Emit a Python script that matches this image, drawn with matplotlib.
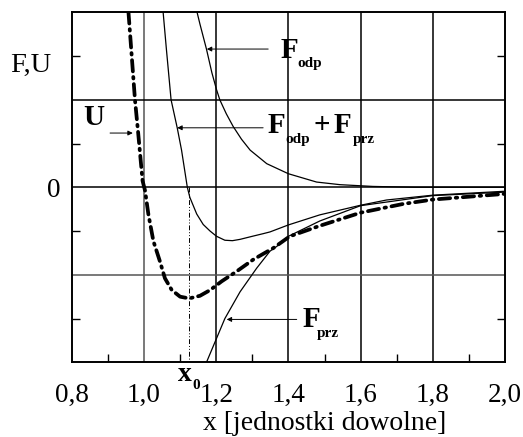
import matplotlib
matplotlib.use("Agg")
import matplotlib.pyplot as plt
from matplotlib.ticker import FixedLocator, FixedFormatter

plt.rcParams['font.family'] = ['Liberation Serif', 'DejaVu Serif']

# ---- data ----
x_odp = [1.147, 1.155, 1.173, 1.188, 1.201, 1.21, 1.228, 1.247, 1.27, 1.294, 1.34, 1.4, 1.478, 1.543, 1.634, 1.75, 2.0]
F_odp = [4.0, 3.73, 3.16, 2.62, 2.23, 2.0, 1.68, 1.39, 1.1, 0.85, 0.54, 0.31, 0.12, 0.06, 0.02, 0.0, 0.0]

x_sum = [1.053, 1.062, 1.075, 1.092, 1.104, 1.12, 1.127, 1.146, 1.164, 1.183, 1.201, 1.224, 1.245,
         1.266, 1.30, 1.33, 1.349, 1.4, 1.487, 1.6, 1.672, 1.8, 2.0]
F_sum = [4.0, 3.16, 2.0, 1.36, 0.85, 0.0, -0.23, -0.61, -0.85, -1.0, -1.12, -1.21, -1.22,
         -1.19, -1.12, -1.06, -1.02, -0.86, -0.63, -0.41, -0.29, -0.18, -0.09]

x_prz = [1.168, 1.224, 1.266, 1.312, 1.349, 1.368, 1.4, 1.487, 1.6, 1.8, 2.0]
F_prz = [-4.1, -3.0, -2.39, -1.85, -1.46, -1.35, -1.12, -0.77, -0.42, -0.19, -0.11]

x_U = [0.957, 0.966, 0.975, 0.984, 0.996, 1.003, 1.012, 1.026, 1.044, 1.058, 1.077, 1.1, 1.125,
       1.155, 1.183, 1.215, 1.257, 1.303, 1.358, 1.404, 1.487, 1.6, 1.718, 1.8, 2.0]
U = [4.0, 3.0, 2.0, 1.23, 0.15, -0.08, -0.61, -1.23, -1.69, -2.08, -2.35, -2.5, -2.54,
     -2.48, -2.35, -2.15, -1.92, -1.65, -1.39, -1.12, -0.88, -0.58, -0.38, -0.28, -0.15]

x0 = 1.125

x_ticks = [0.8, 1.0, 1.2, 1.4, 1.6, 1.8, 2.0]
x_tick_labels = ['0,8', '1,0', '1,2', '1,4', '1,6', '1,8', '2,0']
x_minor = [0.9, 1.1, 1.3, 1.5, 1.7, 1.9]
y_minor = [-3, -1, 1, 3]

# ---- figure ----
W, H = 523, 437
fig = plt.figure(figsize=(W / 100, H / 100), dpi=100)
L, R, T, B = 71.8, 505.0, 12.3, 362.3
ax = fig.add_axes([L / W, 1 - B / H, (R - L) / W, (B - T) / H])
ax.set_xlim(0.8, 2.0)
ax.set_ylim(-4, 4)

# grid
for gx, c in zip([1.0, 1.2, 1.4, 1.6, 1.8], ['#555555', 'black', 'black', 'black', 'black']):
    ax.axvline(gx, color=c, lw=1.1, zorder=1)
for gy, c in zip([2, 0, -2], ['black', 'black', '#555555']):
    ax.axhline(gy, color=c, lw=1.1, zorder=1)

# curves
ax.plot(x_odp, F_odp, color='black', lw=0.9, zorder=3)
ax.plot(x_sum, F_sum, color='black', lw=0.9, zorder=3)
ax.plot(x_prz, F_prz, color='black', lw=0.9, zorder=3)
ax.plot(x_U, U, color='black', lw=2.7, zorder=4,
        linestyle=(0, (3.0, 1.5, 0.4, 1.5)), dash_capstyle='round')
ax.plot([x0, x0], [0, -4], color='black', lw=0.7, zorder=2,
        linestyle=(0, (5, 2, 1, 2, 1, 2)))

# ticks
ax.xaxis.set_major_locator(FixedLocator(x_ticks))
ax.xaxis.set_major_formatter(FixedFormatter(x_tick_labels))
ax.xaxis.set_minor_locator(FixedLocator(x_minor))
ax.yaxis.set_major_locator(FixedLocator([0]))
ax.yaxis.set_major_formatter(FixedFormatter(['0']))
ax.yaxis.set_minor_locator(FixedLocator(y_minor))
ax.tick_params(axis='x', which='major', direction='in', length=0, labelsize=19.5, pad=15)
ax.tick_params(axis='x', which='minor', direction='in', length=6, width=1)
ax.tick_params(axis='y', which='major', direction='in', length=0, labelsize=19.5, pad=8)
ax.tick_params(axis='y', which='minor', direction='in', length=6, width=1, right=True)
for s in ax.spines.values():
    s.set_linewidth(1.4)

# labels
fig.text(325 / W, 1 - 430 / H, 'x [jednostki dowolne]', ha='center', va='baseline', fontsize=20)
fig.text(31 / W, 1 - 65 / H, 'F,U', ha='center', va='center', fontsize=20.5)

big = dict(fontsize=21, fontweight='bold', color='black')
sub = dict(fontsize=11, fontweight='bold', color='black')
arr = dict(arrowstyle='-|>', color='black', lw=0.7, mutation_scale=7, shrinkA=0, shrinkB=0)

# F_odp
ax.annotate('', xy=(1.174, 3.16), xytext=(1.344, 3.16), arrowprops=arr)
ax.text(1.377, 2.96, 'F', ha='left', va='baseline', **big)
ax.text(1.424, 2.74, 'odp', ha='left', va='baseline', **sub)

# F_odp + F_prz
ax.annotate('', xy=(1.092, 1.36), xytext=(1.33, 1.36), arrowprops=arr)
ax.text(1.341, 1.24, 'F', ha='left', va='baseline', **big)
ax.text(1.391, 1.02, 'odp', ha='left', va='baseline', **sub)
ax.text(1.493, 1.24, '+', ha='center', va='baseline', **big)
ax.text(1.524, 1.24, 'F', ha='left', va='baseline', **big)
ax.text(1.579, 1.02, 'prz', ha='left', va='baseline', **sub)

# F_prz
ax.annotate('', xy=(1.229, -3.02), xytext=(1.423, -3.02), arrowprops=arr)
ax.text(1.44, -3.19, 'F', ha='left', va='baseline', **big)
ax.text(1.479, -3.42, 'prz', ha='left', va='baseline', **sub)

# U
ax.annotate('', xy=(0.969, 1.24), xytext=(0.906, 1.24), arrowprops=arr)
ax.text(0.831, 1.42, 'U', ha='left', va='baseline', **big)

# x0
ax.text(1.094, -4.42, 'x', ha='left', va='baseline', clip_on=False, fontsize=20, fontweight='bold')
ax.text(1.134, -4.62, '0', ha='left', va='baseline', clip_on=False, **sub)

fig.savefig('out.png', dpi=100)
